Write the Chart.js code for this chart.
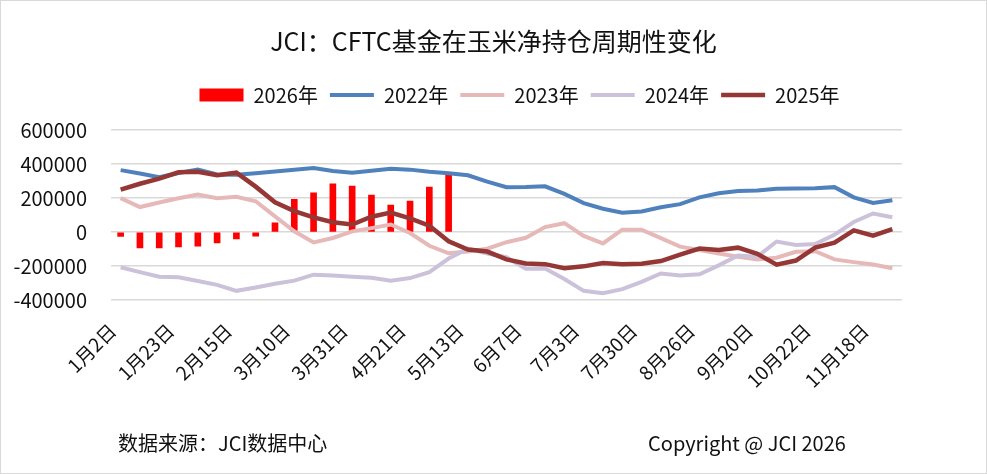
<!DOCTYPE html>
<html>
<head>
<meta charset="utf-8">
<script src="https://cdn.jsdelivr.net/npm/chart.js@4.4.1/dist/chart.umd.min.js"></script>
<style>
  html, body { margin: 0; padding: 0; background: #fff; }
  #wrap {
    position: relative; width: 985px; height: 472px;
    border: 1px solid #d9d9d9; overflow: hidden;
    font-family: "Noto Sans CJK SC", "Noto Sans", sans-serif;
  }
  #chartBox { position: absolute; left: 0; top: 0; width: 985px; height: 472px; }
  .txt { position: absolute; color: #111; white-space: nowrap; }
  #title { top: 23px; left: 0; width: 985px; text-align: center; font-size: 25px; line-height: 32px; }
  .foot { top: 427px; font-size: 20px; }
</style>
</head>
<body>
<div id="wrap">
  <div id="chartBox"><canvas id="myChart"></canvas></div>
  <div id="title" class="txt">JCI：CFTC基金在玉米净持仓周期性变化</div>
  <div class="txt foot" style="left:117px">数据来源：JCI数据中心</div>
  <div class="txt foot" style="left:647px">Copyright @ JCI 2026</div>
</div>
<script>
// weekly categories, a date label every third week
const tickLabels = ["1月2日", "1月23日", "2月15日", "3月10日", "3月31日", "4月21日", "5月13日",
  "6月7日", "7月3日", "7月30日", "8月26日", "9月20日", "10月22日", "11月18日"];
const weekCount = 41;

const y2026 = [-25000, -92000, -92000, -86000, -82000, -63000, -39000, -24000, 55000, 194000,
  231000, 284000, 271000, 218000, 159000, 183000, 265000, 338000];

const y2022 = [365000, 345000, 324000, 348000, 368000, 340000, 338000, 347000, 357000, 367000,
  377000, 360000, 350000, 362000, 373000, 368000, 356000, 347000, 335000, 297000,
  265000, 266000, 270000, 225000, 171000, 138000, 114000, 122000, 147000, 165000,
  205000, 229000, 242000, 245000, 255000, 257000, 259000, 265000, 205000, 172000, 188000];

const y2023 = [200000, 148000, 175000, 200000, 222000, 200000, 208000, 182000, 93000, 5000,
  -60000, -34000, 5000, 24000, 45000, -5000, -80000, -124000, -113000, -97000,
  -59000, -33000, 30000, 53000, -22000, -66000, 15000, 15000, -35000, -85000,
  -105000, -125000, -145000, -160000, -150000, -115000, -112000, -160000, -176000, -190000, -212000];

const y2024 = [-206000, -235000, -262000, -265000, -287000, -310000, -345000, -325000, -303000, -285000,
  -250000, -255000, -262000, -268000, -285000, -270000, -235000, -155000, -97000, -125000,
  -147000, -215000, -213000, -275000, -345000, -359000, -335000, -292000, -243000, -255000,
  -248000, -195000, -137000, -144000, -55000, -75000, -70000, -15000, 60000, 110000, 88000];

const y2025 = [250000, 285000, 315000, 352000, 356000, 335000, 350000, 268000, 176000, 124000,
  87000, 59000, 45000, 91000, 115000, 81000, 38000, -54000, -102000, -114000,
  -160000, -184000, -188000, -212000, -201000, -182000, -188000, -185000, -170000, -132000,
  -96000, -105000, -91000, -127000, -191000, -167000, -91000, -62000, 11000, -20000, 18000];

const yTicks = [-400000, -200000, 0, 200000, 400000, 600000];

const categories = [];
for (let i = 0; i < weekCount; i++) {
  categories.push(i % 3 === 0 ? tickLabels[i / 3] : "");
}

const FONT = "'Noto Sans CJK SC', 'Noto Sans', sans-serif";
Chart.defaults.font.family = FONT;
Chart.defaults.color = "#111";

function lineSet(label, data, color, width, order) {
  return {
    type: "line",
    label: label,
    data: data,
    borderColor: color,
    backgroundColor: color,
    borderWidth: width,
    pointRadius: 0,
    pointStyle: "line",
    tension: 0,
    order: order,
  };
}

// the legend sits a little right of the page centre in the original
const legendShift = {
  id: "legendShift",
  afterLayout(chart) {
    chart.legend.left += 22;
    chart.legend.right += 22;
  },
};

const ctx = document.querySelector("#myChart");

const myChart = new Chart(ctx, {
  type: "bar",
  data: {
    labels: categories,
    datasets: [
      {
        label: "2026年",
        data: y2026,
        backgroundColor: "#ff0000",
        borderWidth: 0,
        barThickness: 6,
        pointStyle: "rect",
        order: 10,
      },
      lineSet("2022年", y2022, "#4f81bd", 4, 4),
      lineSet("2023年", y2023, "#e6b9b8", 4, 3),
      lineSet("2024年", y2024, "#ccc1da", 4, 2),
      lineSet("2025年", y2025, "#953735", 4.5, 1),
    ],
  },
  plugins: [legendShift],
  options: {
    responsive: true,
    maintainAspectRatio: false,
    animation: false,
    layout: {
      padding: { left: 8, right: 0, top: 72, bottom: 62 },
    },
    scales: {
      x: {
        offset: true,
        grid: { display: false, drawTicks: false },
        border: { display: false },
        ticks: {
          autoSkip: false,
          minRotation: 45,
          maxRotation: 45,
          padding: 19,
          labelOffset: -8,
          font: { size: 19 },
          color: "#111",
        },
      },
      y: {
        min: -400000,
        max: 600000,
        afterBuildTicks: (axis) => {
          axis.ticks = yTicks.map((v) => ({ value: v }));
        },
        afterFit: (axis) => {
          axis.width = 102;
        },
        grid: { color: "#d9d9d9", lineWidth: 1.5, drawTicks: false },
        border: { display: false },
        ticks: {
          padding: 24,
          font: { size: 20 },
          color: "#111",
          callback: (value) => String(value),
        },
      },
      // empty right axis, only keeps the plot clear of the right edge
      yRight: {
        position: "right",
        grid: { display: false, drawTicks: false },
        border: { display: false },
        ticks: { display: false },
        afterFit: (axis) => {
          axis.width = 84;
        },
      },
    },
    plugins: {
      // blank title used as a gap between legend and plot
      title: {
        display: true,
        text: "",
        weight: 500,
        font: { size: 1 },
        padding: { top: 14, bottom: 0 },
      },
      legend: {
        display: true,
        labels: {
          usePointStyle: true,
          pointStyleWidth: 44,
          boxHeight: 13,
          padding: 12,
          font: { size: 20 },
          color: "#111",
          sort: (a, b) => a.datasetIndex - b.datasetIndex,
        },
      },
      tooltip: { enabled: false },
    },
  },
});
</script>
</body>
</html>
